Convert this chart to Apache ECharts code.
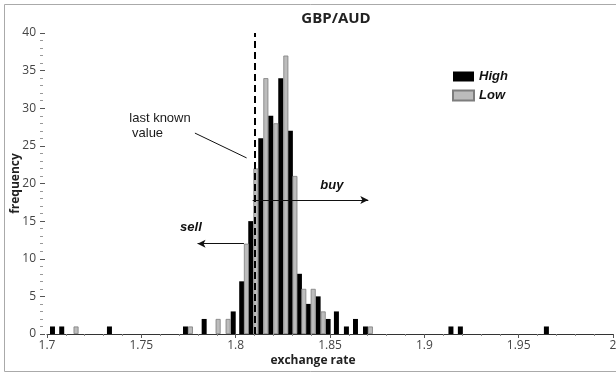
<!DOCTYPE html>
<html>
<head>
<meta charset="utf-8">
<script src="https://cdn.jsdelivr.net/npm/echarts@6/dist/echarts.min.js"></script>
<style>
  html, body { margin: 0; padding: 0; background: #fff; }
  #chart { width: 616px; height: 374px; }
</style>
</head>
<body>
<div id="chart"></div>
<script>
// exchange-rate bins (bar centres) and how often each occurred
var highRate = [1.7029, 1.7078, 1.7331, 1.7734, 1.7833, 1.7987, 1.8032, 1.8080, 1.8133, 1.8186, 1.8239, 1.8290,
	1.8338, 1.8385, 1.8437, 1.8490, 1.8534, 1.8587, 1.8635, 1.8688, 1.9141, 1.9191, 1.9647];
var highCount = [1, 1, 1, 1, 2, 3, 7, 15, 26, 29, 34, 27, 8, 4, 5, 2, 3, 1, 2, 1, 1, 1, 1];
var lowRate = [1.7154, 1.7760, 1.7907, 1.7960, 1.8057, 1.8107, 1.8160, 1.8213, 1.8266, 1.8314, 1.8361, 1.8411,
	1.8464, 1.8714];
var lowCount = [1, 1, 2, 2, 12, 22, 34, 28, 37, 21, 6, 6, 3, 1];

var lastKnown = 1.8065;
// annotation arrows, [rate, frequency]
var buyArrow = [[1.8090, 17.8], [1.8703, 17.8]];
var sellArrow = [[1.8044, 12], [1.7798, 12]];
var pointerLine = [[1.7784, 26.7], [1.8058, 23.4]];

var myChart = echarts.init(document.getElementById('chart'));

function pairs(xs, ys) {
	return xs.map(function(x, i) { return [x, ys[i]]; });
}

// text placed at a [rate, frequency] point
function note(text, coord, style) {
	return {
		name: text,
		coord: coord,
		symbolSize: 0,
		label: Object.assign({
			show: true,
			position: 'inside',
			formatter: text,
			color: '#1a1a1a',
			fontSize: 13,
			fontFamily: 'Liberation Sans'
		}, style || {})
	};
}

var boldItalic = { fontWeight: 'bold', fontStyle: 'italic', fontSize: 13, color: '#111' };

var option = {
	animation: false,
	title: {
		text: 'GBP/AUD',
		left: 331,
		top: 6,
		textAlign: 'center',
		textStyle: { fontFamily: 'Open Sans', fontWeight: 'bold', fontSize: 15, color: '#222' }
	},
	legend: {
		orient: 'vertical',
		left: 447,
		top: 65,
		itemWidth: 21,
		itemHeight: 10,
		itemGap: 6,
		icon: 'rect',
		textStyle: { fontFamily: 'Liberation Sans', fontWeight: 'bold', fontStyle: 'italic', fontSize: 13, color: '#111' },
		data: ['High', 'Low']
	},
	grid: { left: 47, right: 3, top: 33, bottom: 40, containLabel: false, outerBoundsMode: 'none' },
	xAxis: {
		type: 'value',
		min: 1.7,
		max: 2.0,
		interval: 0.05,
		name: 'exchange rate',
		nameLocation: 'middle',
		nameGap: 21,
		nameMoveOverlap: false,
		nameTextStyle: { fontFamily: 'Open Sans', fontWeight: 'bold', fontSize: 12, color: '#222', padding: [0, 34, 0, 0] },
		axisLine: { lineStyle: { color: '#333', width: 1 } },
		axisTick: { length: 4, lineStyle: { color: '#555' } },
		minorTick: { show: true, splitNumber: 5, length: 2, lineStyle: { color: '#888' } },
		axisLabel: { fontFamily: 'Open Sans', fontSize: 12, color: '#444', margin: 6 },
		splitLine: { show: false }
	},
	yAxis: {
		type: 'value',
		min: 0,
		max: 40,
		interval: 5,
		offset: 7,
		name: 'frequency',
		nameLocation: 'middle',
		nameGap: 18,
		nameMoveOverlap: false,
		nameTextStyle: { fontFamily: 'Open Sans', fontWeight: 'bold', fontSize: 12, color: '#222' },
		axisLine: { show: false },
		axisTick: { inside: true, length: 5, lineStyle: { color: '#555' } },
		minorTick: { show: true, splitNumber: 5, length: 3, lineStyle: { color: '#999' } },
		axisLabel: { fontFamily: 'Open Sans', fontSize: 12, color: '#444', margin: 4 },
		splitLine: { show: false }
	},
	graphic: [{
		type: 'rect',
		shape: { x: 4.5, y: 4.5, width: 620, height: 367 },
		style: { fill: 'none', stroke: '#aaa', lineWidth: 1 },
		silent: true
	}],
	series: [{
		name: 'High',
		type: 'bar',
		barWidth: 5,
		barGap: '-100%',
		itemStyle: { color: '#000' },
		data: pairs(highRate, highCount),
		markLine: {
			silent: true,
			symbol: ['none', 'none'],
			label: { show: false },
			lineStyle: { color: '#000', width: 2, type: [7, 4] },
			data: [{ xAxis: lastKnown }]
		}
	}, {
		name: 'Low',
		type: 'bar',
		barWidth: 5,
		barGap: '-100%',
		itemStyle: { color: '#bcbcbc', borderColor: '#7d7d7d', borderWidth: 0.8 },
		data: pairs(lowRate, lowCount),
		markLine: {
			silent: true,
			symbol: ['none', 'arrow'],
			symbolSize: [6, 8],
			label: { show: false },
			lineStyle: { color: '#111', width: 1, type: 'solid' },
			data: [
				[{ coord: buyArrow[0] }, { coord: buyArrow[1] }],
				[{ coord: sellArrow[0] }, { coord: sellArrow[1] }],
				[{ coord: pointerLine[0], symbol: 'none' }, { coord: pointerLine[1], symbol: 'none' }]
			]
		},
		markPoint: {
			silent: true,
			symbol: 'circle',
			data: [
				note('last known', [1.7599, 28.6]),
				note('value', [1.7533, 26.6]),
				note('buy', [1.8510, 19.8], boldItalic),
				note('sell', [1.7763, 14.2], boldItalic)
			]
		}
	}]
};
myChart.setOption(option);
</script>
</body>
</html>
